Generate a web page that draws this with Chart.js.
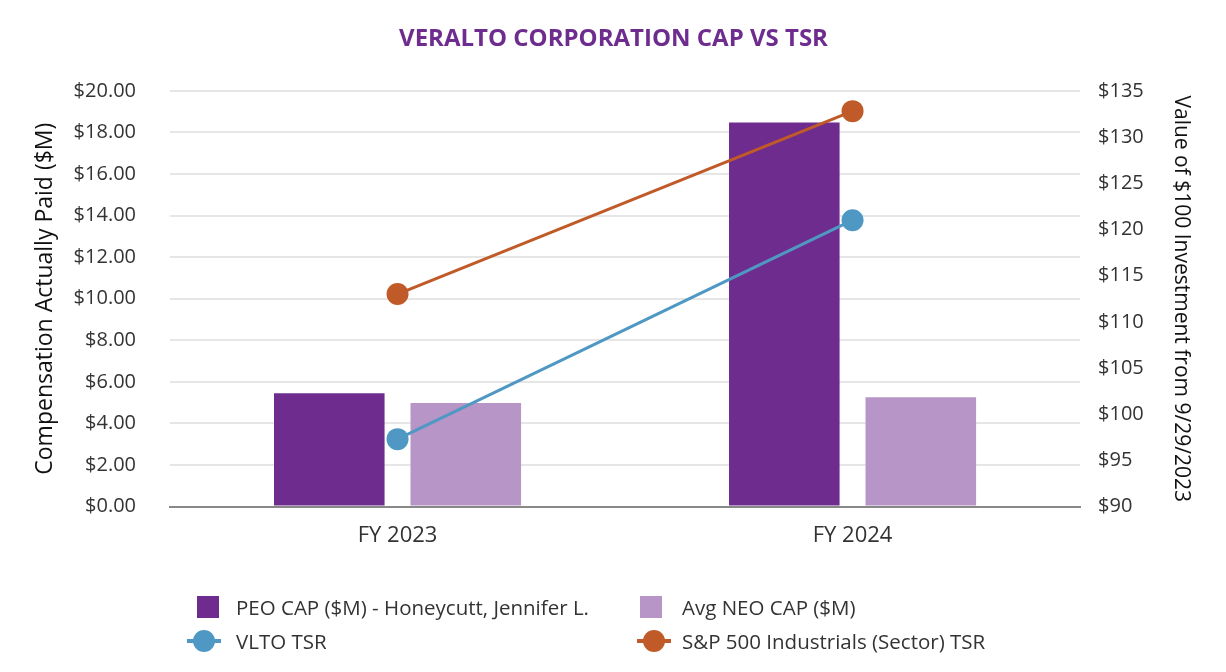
<!DOCTYPE html>
<html>
<head>
<meta charset="utf-8">
<script src="https://cdn.jsdelivr.net/npm/chart.js"></script>
<style>
    html, body { margin: 0; padding: 0; background: #fff; }
    #wrap { position: relative; width: 1226px; height: 672px; font-family: "Open Sans", "Noto Sans", sans-serif; }
    #capChart { position: absolute; left: 0; top: 0; }
    #legend { position: absolute; left: 0; top: 590px; width: 1226px; color: #333; font-size: 20.5px; }
    .item { position: absolute; height: 30px; line-height: 30px; white-space: nowrap; }
    .box { position: absolute; top: 4px; width: 22px; height: 22px; }
    .ln { position: absolute; top: 13px; width: 34px; height: 4px; }
    .dot { position: absolute; top: 4px; left: 6px; width: 22px; height: 22px; border-radius: 50%; }
</style>
</head>
<body>
<div id="wrap">
    <canvas id="capChart" width="1226" height="672"></canvas>
    <div id="legend"></div>
</div>
<script>
// data
const years = ['FY 2023', 'FY 2024'];
const peoCap = [5.45, 18.47];
const avgNeoCap = [4.98, 5.26];
const vltoTsr = [97.3, 121.0];
const spIndustrialsTsr = [113.0, 132.8];

const colors = {
    peo: '#6f2c8f',
    neo: '#b795c6',
    vlto: '#4f98c3',
    sp: '#c05a28'
};

const fontFamily = '"Open Sans", "Noto Sans", sans-serif';
const tickFont = { family: fontFamily, size: 20 };

const chart = new Chart(document.getElementById('capChart'), {
    data: {
        labels: years,
        datasets: [
            {
                type: 'line',
                label: 'VLTO TSR',
                data: vltoTsr,
                yAxisID: 'yTsr',
                borderColor: colors.vlto,
                backgroundColor: colors.vlto,
                borderWidth: 3,
                pointRadius: 11,
                pointHoverRadius: 11,
                pointBorderWidth: 0,
                order: 0
            },
            {
                type: 'line',
                label: 'S&P 500 Industrials (Sector) TSR',
                data: spIndustrialsTsr,
                yAxisID: 'yTsr',
                borderColor: colors.sp,
                backgroundColor: colors.sp,
                borderWidth: 3,
                pointRadius: 11,
                pointHoverRadius: 11,
                pointBorderWidth: 0,
                order: 0
            },
            {
                type: 'bar',
                label: 'PEO CAP ($M) - Honeycutt, Jennifer L.',
                data: peoCap,
                yAxisID: 'yCap',
                backgroundColor: colors.peo,
                barPercentage: 0.81,
                categoryPercentage: 0.6,
                order: 1
            },
            {
                type: 'bar',
                label: 'Avg NEO CAP ($M)',
                data: avgNeoCap,
                yAxisID: 'yCap',
                backgroundColor: colors.neo,
                barPercentage: 0.81,
                categoryPercentage: 0.6,
                order: 1
            }
        ]
    },
    options: {
        responsive: false,
        animation: false,
        layout: { padding: { top: 6, left: 31, right: 30, bottom: 107 } },
        plugins: {
            legend: { display: false },
            tooltip: { enabled: false },
            title: {
                display: true,
                text: 'VERALTO CORPORATION CAP VS TSR',
                color: colors.peo,
                font: { family: fontFamily, size: 24, weight: 'bold' },
                padding: { top: 19, bottom: 37 }
            }
        },
        scales: {
            x: {
                grid: { display: false, drawTicks: false },
                border: { color: '#888', width: 2 },
                ticks: { color: '#333', font: { family: fontFamily, size: 22 }, padding: 16 }
            },
            yCap: {
                position: 'left',
                min: 0,
                max: 20,
                ticks: {
                    stepSize: 2,
                    color: '#333',
                    font: tickFont,
                    padding: 34,
                    callback: v => '$' + v.toFixed(2)
                },
                grid: { color: '#e6e6e6', lineWidth: 2, drawTicks: false },
                border: { display: false },
                title: {
                    display: true,
                    text: 'Compensation Actually Paid ($M)',
                    color: '#111',
                    font: { family: fontFamily, size: 23 },
                    padding: { top: 1, bottom: -20 }
                }
            },
            yTsr: {
                position: 'right',
                min: 90,
                max: 135,
                ticks: {
                    stepSize: 5,
                    color: '#333',
                    font: tickFont,
                    padding: 18,
                    callback: v => '$' + v
                },
                grid: { display: false, drawTicks: false },
                border: { display: false },
                title: {
                    display: true,
                    text: 'Value of $100 Investment from 9/29/2023',
                    color: '#111',
                    font: { family: fontFamily, size: 21 },
                    padding: { top: 2, bottom: 7 }
                }
            }
        }
    }
});

// html legend, two columns like the original
const legendItems = [
    { label: chart.data.datasets[2].label, color: colors.peo, kind: 'box', x: 197, y: 2, gap: 39 },
    { label: chart.data.datasets[3].label, color: colors.neo, kind: 'box', x: 640, y: 2, gap: 42 },
    { label: chart.data.datasets[0].label, color: colors.vlto, kind: 'line', x: 187, y: 36, gap: 49 },
    { label: chart.data.datasets[1].label, color: colors.sp, kind: 'line', x: 637, y: 36, gap: 45 }
];
const legendEl = document.getElementById('legend');
legendItems.forEach(it => {
    const div = document.createElement('div');
    div.className = 'item';
    div.style.left = it.x + 'px';
    div.style.top = it.y + 'px';
    let mark;
    if (it.kind === 'box') {
        mark = '<span class="box" style="left:0;background:' + it.color + '"></span>';
    } else {
        mark = '<span class="ln" style="left:0;background:' + it.color + '"></span>' +
               '<span class="dot" style="background:' + it.color + '"></span>';
    }
    div.innerHTML = mark + '<span style="margin-left:' + it.gap + 'px">' + it.label + '</span>';
    legendEl.appendChild(div);
});
</script>
</body>
</html>
